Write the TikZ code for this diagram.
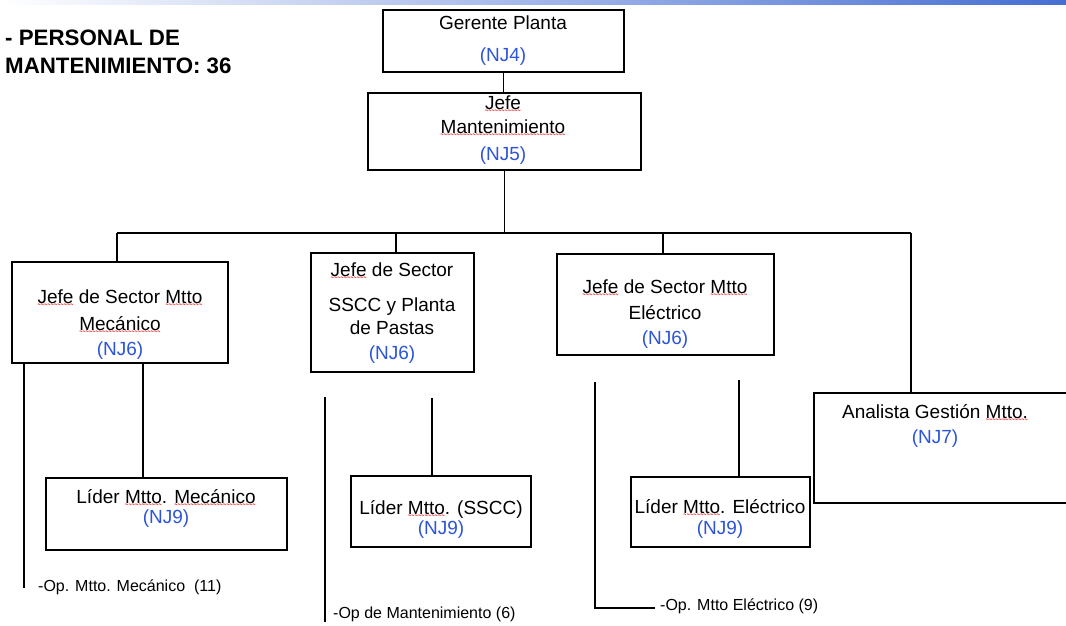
\documentclass[tikz,border=0pt]{standalone}
\usepackage{fontspec}
\setmainfont{Liberation Sans}
\usetikzlibrary{fit}
\definecolor{njblue}{RGB}{45,85,215}
\definecolor{sqred}{RGB}{240,70,70}
\definecolor{topblue}{RGB}{70,110,210}
\newsavebox\sqbox
\newcommand\sqw[1]{\sbox\sqbox{#1}\rlap{\smash{\lower6pt\hbox to \wd\sqbox{\color{sqred}\fontsize{9}{9}\selectfont\xleaders\hbox{\scalebox{0.6}[1.6]{\textasciitilde}}\hfill}}}\usebox\sqbox}
\newcommand\nj[1]{{\color{njblue}(#1)}}
\begin{document}
\begin{tikzpicture}[x=1pt,y=-1pt,
  box/.style={draw, line width=1.3pt, inner sep=0pt},
  lbl/.style={align=center, inner sep=0pt, anchor=north, font=\fontsize{19}{24}\selectfont},
  op/.style={anchor=west, inner sep=0pt, font=\fontsize{16}{19}\selectfont},
  conn/.style={line width=1.3pt}]
\useasboundingbox (0,0) rectangle (1066,626);
\fill[white] (0,0) rectangle (1066,626);
\shade[left color=white, right color=topblue] (0,0) rectangle (1066,5);

\node[anchor=north west, align=left, inner sep=0pt, font=\bfseries\fontsize{22.3}{28}\selectfont] (title) at (5,30) {- PERSONAL DE\\MANTENIMIENTO: 36};

% boxes
\node[box, fit={(383,10) (624,72)}] (gp) {};
\node[box, fit={(368,93) (641,170)}] (jm) {};
\node[box, fit={(12,262) (228,363)}] (s1) {};
\node[box, fit={(311,253) (474,372)}] (s2) {};
\node[box, fit={(557,254) (774,355)}] (s3) {};
\node[box, fit={(814,393) (1072,503)}] (an) {};
\node[box, fit={(46,478) (287,550)}] (l1) {};
\node[box, fit={(351,476) (531,547)}] (l2) {};
\node[box, fit={(631,477) (810,547)}] (l3) {};

% texts
\node[lbl] (gpT) at (503,16) {Gerente Planta\\[8pt]\nj{NJ4}};
\node[lbl] (jmT) at (503,96) {\sqw{Jefe}\\\sqw{Mantenimiento}\\[3pt]\nj{NJ5}};
\node[lbl] (s1T) at (120,290) {\sqw{Jefe} de Sector \sqw{Mtto}\\[3pt]\sqw{Mecánico}\\[1pt]\nj{NJ6}};
\node[lbl] (s2T) at (392,263) {\sqw{Jefe} de Sector\\[11pt]SSCC y Planta\\[-1pt]de Pastas\\[1pt]\nj{NJ6}};
\node[lbl] (s3T) at (665,280) {\sqw{Jefe} de Sector \sqw{Mtto}\\[2pt]Eléctrico\\[1pt]\nj{NJ6}};
\node[lbl] (anT) at (935,404) {Analista Gestión \sqw{Mtto.}\\[1pt]\nj{NJ7}};
\node[lbl] (l1T) at (166,489) {Líder \sqw{Mtto}. \sqw{Mecánico}\\[-4pt]\nj{NJ9}};
\node[lbl] (l2T) at (441,500) {Líder \sqw{Mtto}. (SSCC)\\[-4pt]\nj{NJ9}};
\node[lbl] (l3T) at (720,499) {Líder \sqw{Mtto}. Eléctrico\\[-3pt]\nj{NJ9}};

\node[op] (op1) at (38,587) {-Op. Mtto. Mecánico\ \ (11)};
\node[op] (op2) at (333,614) {-Op de Mantenimiento (6)};
\node[op] (op3) at (660,606) {-Op. Mtto Eléctrico (9)};

% connectors
\draw[conn] (gp.south) -- (gp.south |- jm.north);
\coordinate (busL) at (117,233);
\coordinate (busR) at (911,233);
\coordinate (b2) at (396,233);
\coordinate (b3) at (663,233);
\draw[conn] (jm.south) -- (jm.south |- busL);
\draw[conn] (busL) -- (busR);
\draw[conn] (busL) -- (busL |- s1.north);
\draw[conn] (b2) -- (b2 |- s2.north);
\draw[conn] (b3) -- (b3 |- s3.north);
\draw[conn] (busR) -- (busR |- an.north);

\coordinate (c1a) at (24,588);
\coordinate (c1b) at (143,400);
\draw[conn] (s1.south -| c1a) -- (c1a);
\draw[conn] (s1.south -| c1b) -- (l1.north -| c1b);

\coordinate (c2a) at (325,397);
\coordinate (c2aE) at (325,622);
\coordinate (c2b) at (432,398);
\draw[conn] (c2a) -- (c2aE);
\draw[conn] (c2b) -- (c2b |- l2.north);

\coordinate (c3a) at (595,382);
\coordinate (c3aF) at (655,608);
\coordinate (c3b) at (739,380);
\draw[conn] (c3a) |- (c3aF);
\draw[conn] (c3b) -- (c3b |- l3.north);
\end{tikzpicture}
\end{document}
